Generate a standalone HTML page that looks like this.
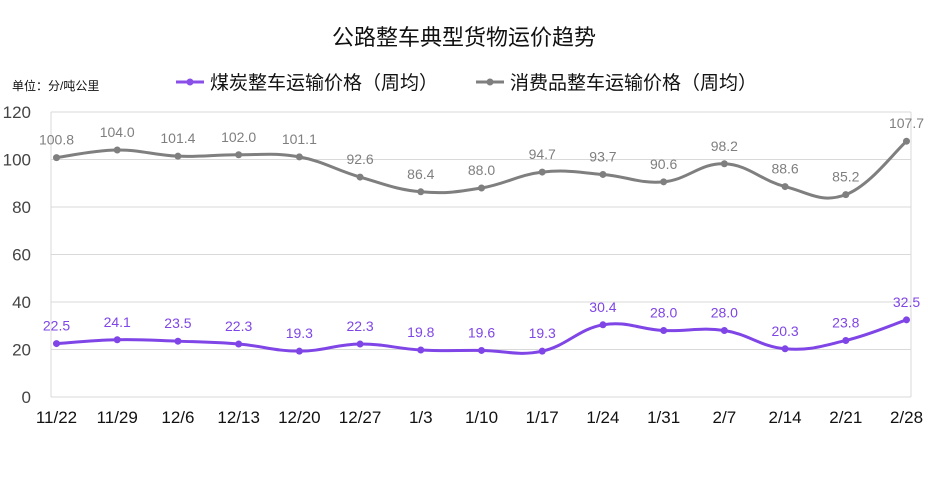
<!DOCTYPE html>
<html><head><meta charset="utf-8"><style>
body{margin:0;background:#fff;}
svg text{font-family:"Liberation Sans","Noto Sans CJK SC",sans-serif;}
</style></head><body>
<svg id="s" width="928" height="472" xmlns="http://www.w3.org/2000/svg">
<text x="464" y="45" text-anchor="middle" font-size="22" fill="#111">公路整车典型货物运价趋势</text>
<text x="12" y="90" font-size="12" fill="#111">单位：分/吨公里</text>
<line x1="176" y1="82" x2="204" y2="82" stroke="#8a4fe8" stroke-width="3"/><circle cx="190" cy="82" r="3.5" fill="#8a4fe8"/>
<text x="210" y="89" font-size="19" fill="#111">煤炭整车运输价格（周均）</text>
<line x1="476" y1="82" x2="504" y2="82" stroke="#7f7f7f" stroke-width="3"/><circle cx="490" cy="82" r="3.5" fill="#7f7f7f"/>
<text x="510" y="89" font-size="19" fill="#111">消费品整车运输价格（周均）</text>
<g id="g"></g>
</svg>
<script>
const g=document.getElementById('g');let h='';
const L=51,R=911,T=112,B=397,y=v=>B-v*(B-T)/120;
for(let v=0;v<=120;v+=20){h+=`<line x1="${L}" x2="${R}" y1="${y(v)}" y2="${y(v)}" stroke="#d9d9d9"/>`;
h+=`<text x="31" y="${y(v)+6}" text-anchor="end" font-size="17" fill="#444">${v}</text>`;}
h+=`<line x1="${L}" x2="${L}" y1="${T}" y2="${B}" stroke="#d9d9d9"/><line x1="${R}" x2="${R}" y1="${T}" y2="${B}" stroke="#d9d9d9"/>`;
const lab=['11/22','11/29','12/6','12/13','12/20','12/27','1/3','1/10','1/17','1/24','1/31','2/7','2/14','2/21','2/28'];
const x=i=>56.5+i*(906.5-56.5)/14;
lab.forEach((l,i)=>h+=`<text x="${x(i)}" y="423" text-anchor="middle" font-size="17" fill="#111">${l}</text>`);
const gr=[100.8,104.0,101.4,102.0,101.1,92.6,86.4,88.0,94.7,93.7,90.6,98.2,88.6,85.2,107.7];
const pu=[22.5,24.1,23.5,22.3,19.3,22.3,19.8,19.6,19.3,30.4,28.0,28.0,20.3,23.8,32.5];
function path(d){const p=d.map((v,i)=>[x(i),y(v)]);let s=`M${p[0]}`;
for(let i=0;i<p.length-1;i++){const p0=p[i-1]||p[i],p1=p[i],p2=p[i+1],p3=p[i+2]||p2,t=0.2;
s+=` C${p1[0]+(p2[0]-p0[0])*t},${p1[1]+(p2[1]-p0[1])*t} ${p2[0]-(p3[0]-p1[0])*t},${p2[1]-(p3[1]-p1[1])*t} ${p2[0]},${p2[1]}`;}return s;}
[[gr,'#7f7f7f'],[pu,'#7f45e6']].forEach(([d,c])=>{h+=`<path d="${path(d)}" fill="none" stroke="${c}" stroke-width="3"/>`;
d.forEach((v,i)=>{h+=`<circle cx="${x(i)}" cy="${y(v)}" r="3.5" fill="${c}"/><text x="${x(i)}" y="${y(v)-13}" text-anchor="middle" font-size="14" fill="${c}">${v.toFixed(1)}</text>`;});});
g.innerHTML=h;
</script>
</body></html>
